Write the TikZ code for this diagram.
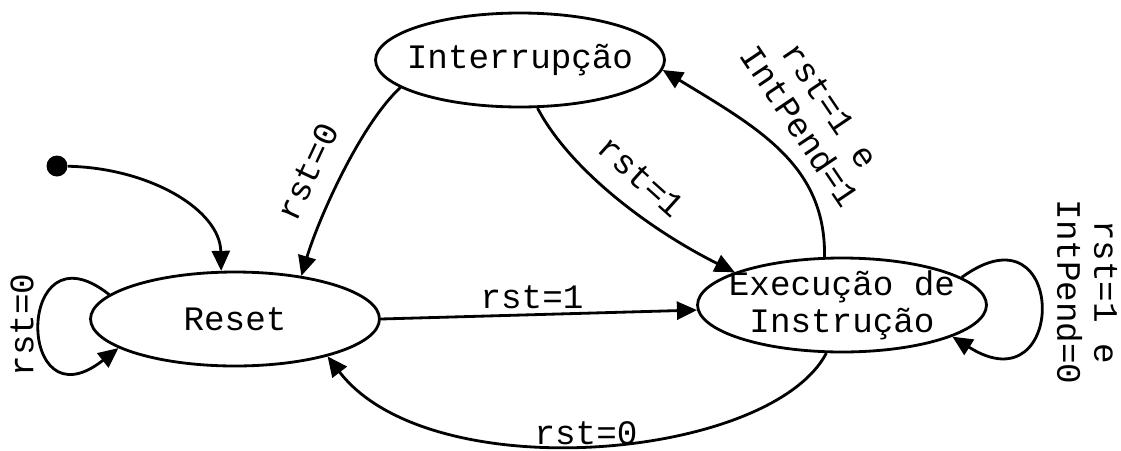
\documentclass[tikz,border=0pt]{standalone}
\usepackage{fontspec}
\setmainfont{Liberation Mono}
\usetikzlibrary{shapes.geometric,arrows.meta}
\begin{document}
\begin{tikzpicture}[x=0.02cm, y=-0.02cm,
  every node/.style={font=\fontsize{19.5}{21}\selectfont},
  state/.style={ellipse, draw, line width=1.6pt, minimum width=5.78cm, minimum height=1.88cm, inner sep=0pt},
  conn/.style={line width=1.6pt, -{Triangle[length=0.4cm, width=0.36cm]}},
  lbl/.style={inner sep=0pt, align=center},
  elbl/.style={inner sep=0pt, align=center}]
\useasboundingbox (0,0) rectangle (1121,450);
\node[state, label={[lbl]center:Reset}] (reset) at (235,319) {};
\node[state, label={[lbl]center:Interrupção}] (int) at (520,60) {};
\node[state, label={[lbl]center:Execução de\\Instrução}] (exec) at (842,305) {};
\node[circle, fill, inner sep=0pt, minimum size=0.42cm] (init) at (57,166) {};

\draw[conn] (init) .. controls (150,168) and (220,210) .. (reset.106);
\draw[conn] (reset.169) .. controls (15,220) and (15,430) .. (reset.194);
\draw[conn] (int.193) .. controls (360,125) and (318,220) .. (reset.33);
\draw[conn] (int.-70) .. controls (570,170) and (650,230) .. (exec.163);
\draw[conn] (exec.110) .. controls (826,165) and (758,128) .. (int.-4);
\draw[conn] (reset.east) -- (exec.182);
\draw[conn] (exec.252) .. controls (770,460) and (430,490) .. (reset.-22);
\draw[conn] (exec.13) .. controls (1068,200) and (1068,410) .. (exec.-16);

\node[elbl, rotate=90] (l1) at (22,325) {rst=0};
\node[elbl, rotate=65] (l2) at (308,172) {rst=0};
\node[elbl, rotate=-42] (l3) at (641,177) {rst=1};
\node[elbl, rotate=-56] (l4) at (815,116) {rst=1 e\\IntPend=1};
\node[elbl, rotate=-90] (l5) at (1087,292) {rst=1 e\\IntPend=0};
\node[elbl] (l6) at (532,297) {rst=1};
\node[elbl] (l7) at (586,433) {rst=0};
\end{tikzpicture}
\end{document}
